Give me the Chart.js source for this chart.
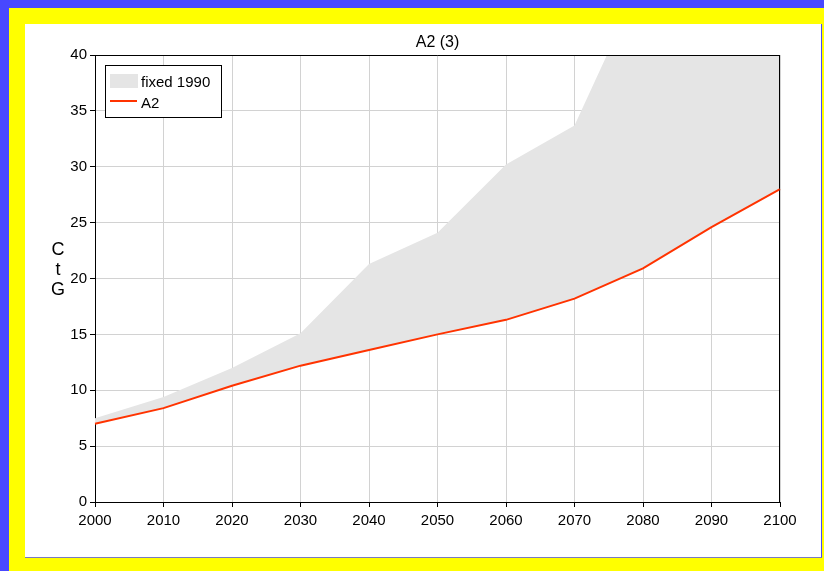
<!DOCTYPE html>
<html>
<head>
<meta charset="utf-8">
<script src="https://cdn.jsdelivr.net/npm/chart.js@4"></script>
<style>
  html, body { margin:0; padding:0; }
  body { width:824px; height:571px; background:#4848ff; position:relative; overflow:hidden; font-family:'Liberation Sans', Arial, sans-serif; }
  #yellow { position:absolute; left:9px; top:8px; width:815px; height:563px; background:#ffff00; }
  #white { position:absolute; left:25px; top:24px; width:796px; height:533px; background:#ffffff;
           border-right:1px solid #4848ff; border-bottom:1px solid #7a7ac0; }
  canvas { position:absolute; left:0; top:0; }
</style>
</head>
<body>
<div id="yellow"></div>
<div id="white"><canvas id="c" width="796" height="533"></canvas></div>
<script>
const chartTitle = 'A2 (3)';
const yAxisLetters = ['C', 't', 'G'];
const years = ['2000','2010','2020','2030','2040','2050','2060','2070','2080','2090','2100'];
const fixed1990 = [7.5, 9.4, 12.0, 15.1, 21.3, 24.1, 30.2, 33.7, 47, 55, 62];
const a2 = [7.0, 8.4, 10.4, 12.2, 13.6, 15.0, 16.3, 18.2, 20.9, 24.6, 28.0];
const yMin = 0, yMax = 40, yStep = 5;

const FONT = "'Liberation Sans', Arial, sans-serif";
const FILL_COLOR = '#e5e5e5';
const LINE_COLOR = '#ff3300';

function borderPath(ctx, a) {
  const top = Math.ceil(a.top) + 0.5;
  const right = Math.floor(a.right) - 0.5;
  ctx.beginPath();
  ctx.moveTo(a.left, top);
  ctx.lineTo(right + 0.5, top);
  ctx.moveTo(right, top);
  ctx.lineTo(right, a.bottom);
}

const decor = {
  id: 'decor',
  beforeDatasetsDraw(chart) {
    const {ctx, chartArea: a} = chart;
    ctx.save();
    ctx.strokeStyle = '#000';
    ctx.lineWidth = 1;
    borderPath(ctx, a);
    ctx.stroke();
    ctx.restore();
  },
  afterDatasetsDraw(chart) {
    const {ctx, chartArea: a} = chart;
    ctx.save();
    ctx.strokeStyle = 'rgba(0,0,0,0.3)';
    ctx.lineWidth = 1;
    borderPath(ctx, a);
    ctx.stroke();
    ctx.restore();
  },
  afterDraw(chart) {
    const {ctx, chartArea: a} = chart;
    const ds = chart.data.datasets;
    ctx.save();
    ctx.fillStyle = '#000';
    ctx.font = '16px ' + FONT;
    ctx.textAlign = 'center';
    ctx.textBaseline = 'alphabetic';
    ctx.fillText(chartTitle, (a.left + a.right) / 2, 22.5);
    ctx.font = '18px ' + FONT;
    yAxisLetters.forEach((ch, i) => ctx.fillText(ch, 33, 230.5 + i * 20));
    const lx = a.left + 10, ly = a.top + 10;
    ctx.fillStyle = '#fff';
    ctx.fillRect(lx, ly, 116, 52);
    ctx.strokeStyle = '#000';
    ctx.lineWidth = 1;
    ctx.strokeRect(lx + 0.5, ly + 0.5, 116, 52);
    ctx.fillStyle = FILL_COLOR;
    ctx.fillRect(lx + 5, ly + 9, 28, 14);
    ctx.strokeStyle = LINE_COLOR;
    ctx.lineWidth = 2;
    ctx.beginPath();
    ctx.moveTo(lx + 5, ly + 36);
    ctx.lineTo(lx + 32, ly + 36);
    ctx.stroke();
    ctx.fillStyle = '#000';
    ctx.font = '15px ' + FONT;
    ctx.textAlign = 'left';
    ctx.fillText(ds[0].label, lx + 36, ly + 22);
    ctx.fillText(ds[1].label, lx + 36, ly + 43);
    ctx.restore();
  }
};

new Chart(document.getElementById('c'), {
  type: 'line',
  data: {
    labels: years,
    datasets: [
      { label: 'fixed 1990', data: fixed1990, borderWidth: 0, borderColor: 'rgba(0,0,0,0)',
        backgroundColor: FILL_COLOR, pointRadius: 0, fill: 1, tension: 0, order: 2 },
      { label: 'A2', data: a2, borderWidth: 2, borderColor: LINE_COLOR,
        pointRadius: 0, fill: false, tension: 0, order: 1 }
    ]
  },
  options: {
    responsive: false,
    animation: false,
    devicePixelRatio: 1,
    layout: { padding: { left: 0, top: 31, right: 41, bottom: 0 } },
    plugins: {
      legend: { display: false },
      title: { display: false },
      tooltip: { enabled: false },
      filler: { drawTime: 'beforeDatasetsDraw' }
    },
    scales: {
      x: {
        offset: false,
        grid: { color: '#d2d2d2', lineWidth: 1, tickColor: '#000', tickLength: 5 },
        border: { color: '#000', width: 1 },
        ticks: { color: '#000', font: { family: FONT, size: 15 }, padding: 5, maxRotation: 0, autoSkip: false },
        afterFit(s) { s.height = 55; }
      },
      y: {
        min: yMin, max: yMax,
        grid: { color: '#d2d2d2', lineWidth: 1, tickColor: '#000', tickLength: 5 },
        border: { color: '#000', width: 1 },
        ticks: { stepSize: yStep, color: '#000', font: { family: FONT, size: 15 }, padding: 3 },
        afterFit(s) { s.width = 70; }
      }
    }
  },
  plugins: [decor]
});
</script>
</body>
</html>
